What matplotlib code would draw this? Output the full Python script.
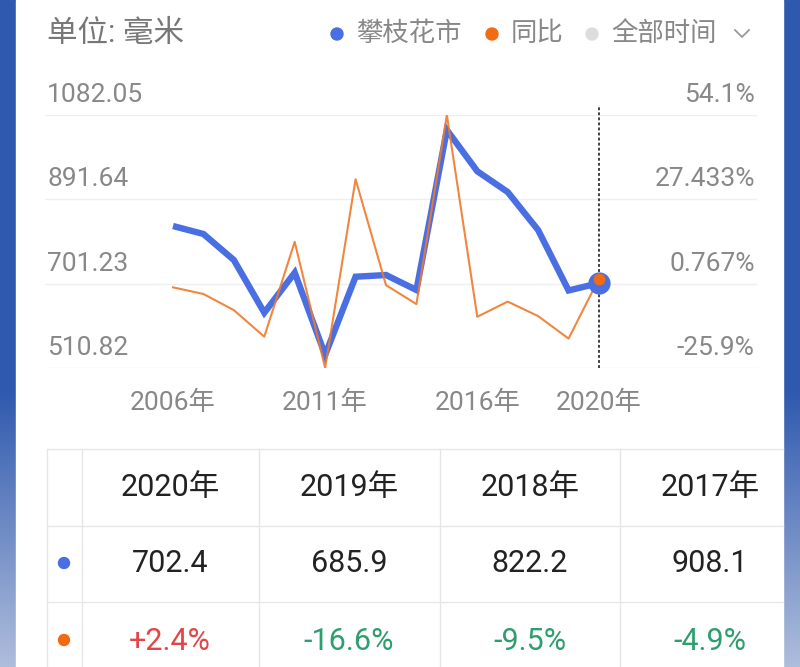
import numpy as np
import matplotlib
matplotlib.use('Agg')
import matplotlib.pyplot as plt
from matplotlib.patches import Rectangle, Circle
import matplotlib.transforms as mtransforms

plt.rcParams['font.family'] = ['Roboto', 'Noto Sans CJK SC', 'DejaVu Sans']

# ---------------- data ----------------
years = list(range(2006, 2021))
rainfall = [831.4, 813.4, 754.6, 635.7, 726.0, 540.2, 716.9, 720.8, 686.9,
            1048.2, 955.0, 908.1, 822.2, 685.9, 702.4]
yoy = [-0.4, -2.5, -7.6, -16.0, 14.0, -25.9, 33.8, 0.3, -5.7,
       54.1, -9.7, -4.9, -9.5, -16.6, 2.4]
left_ticks = [510.82, 701.23, 891.64, 1082.05]
left_tick_labels = ['510.82', '701.23', '891.64', '1082.05']
right_ticks = [-25.9, 0.767, 27.433, 54.1]
right_tick_labels = ['-25.9%', '0.767%', '27.433%', '54.1%']
xtick_years = [2006, 2011, 2016, 2020]
xtick_labels = ['2006年', '2011年', '2016年', '2020年']
unit_label = '单位: 毫米'
series_name = '攀枝花市'
yoy_name = '同比'
range_name = '全部时间'
table_years = [2020, 2019, 2018, 2017]

# ---------------- style ----------------
BLUE = '#4a6fe3'
ORANGE = '#ee7a2c'
ORANGE_DOT = '#f26a12'
GRAY_TXT = '#888888'
RED = '#e0464a'
GREEN = '#2f9e6e'

W, H = 800, 667
fig = plt.figure(figsize=(8, 6.67), dpi=100)


def fx(px):
    return px / W


def fy(py):
    return 1 - py / H


# background: blue side strips with gradient + white card
bg = fig.add_axes([0, 0, 1, 1], zorder=0)
grad = np.zeros((H, 1, 3))
top = np.array([0x2f, 0x59, 0xae]) / 255
bot = np.array([0xb0, 0xbe, 0xdc]) / 255
yy = np.arange(H)
t = np.clip((yy - 390) / (H - 390), 0, 1)
grad[:, 0, :] = top * (1 - t)[:, None] + bot * t[:, None]
bg.imshow(grad, extent=(0, 16, H, 0), aspect='auto')
bg.imshow(grad, extent=(783, W, H, 0), aspect='auto')
bg.add_patch(Rectangle((16, 0), 767, H, color='white', zorder=1))
bg.set_xlim(0, W)
bg.set_ylim(H, 0)
bg.axis('off')

# title & legend
bg.text(47, 34, unit_label, fontsize=22, color='#777777', va='center', ha='left', zorder=3)
bg.add_patch(Circle((337, 34), 6, color=BLUE, zorder=3))
bg.text(356, 34, series_name, fontsize=19, color=GRAY_TXT, va='center', ha='left', zorder=3)
bg.add_patch(Circle((492, 34), 6, color=ORANGE_DOT, zorder=3))
bg.text(511, 34, yoy_name, fontsize=19, color=GRAY_TXT, va='center', ha='left', zorder=3)
bg.add_patch(Circle((592, 34), 6, color='#dddddd', zorder=3))
bg.text(611, 34, range_name, fontsize=19, color=GRAY_TXT, va='center', ha='left', zorder=3)
bg.plot([735, 742, 749], [30, 37, 30], color='#999999', lw=1.3, zorder=3)

# table
line_c = '#e6e6e6'
for yv in [449, 526, 602]:
    bg.plot([47, 783], [yv, yv], color=line_c, lw=1, zorder=2)
for xv in [47, 82, 259, 440, 620]:
    bg.plot([xv, xv], [449, H], color=line_c, lw=1, zorder=2)
col_centers = [170, 349, 530, 710]
for i, yr in enumerate(table_years):
    idx = years.index(yr)
    cx = col_centers[i]
    bg.text(cx, 488, f'{yr}年', fontsize=22, color='#222222', ha='center', va='center', zorder=3)
    bg.text(cx, 564, f'{rainfall[idx]:.1f}', fontsize=22, color='#222222', ha='center', va='center', zorder=3)
    p = yoy[idx]
    bg.text(cx, 641, f'{p:+.1f}%', fontsize=22, color=RED if p > 0 else GREEN,
            ha='center', va='center', zorder=3)
bg.add_patch(Circle((64, 563), 5.5, color=BLUE, zorder=3))
bg.add_patch(Circle((64, 640), 5.5, color=ORANGE_DOT, zorder=3))

# ---------------- chart ----------------
ax_l, ax_r, ax_t, ax_b = 45, 757, 115, 368
ax = fig.add_axes([fx(ax_l), fy(ax_b), (ax_r - ax_l) / W, (ax_b - ax_t) / H], zorder=2)
ax.patch.set_alpha(0)
px_per_year = (599 - 173) / 14
ax.set_xlim(2006 - (173 - ax_l) / px_per_year, 2020 + (ax_r - 599) / px_per_year)
ax.set_ylim(left_ticks[0], left_ticks[-1])
ax.axis('off')
ax2 = ax.twinx()
ax2.set_ylim(right_ticks[0], right_ticks[-1])
ax2.axis('off')

for v in left_ticks:
    ax.axhline(v, color='#efefef', lw=1, zorder=0)

bt = mtransforms.blended_transform_factory(ax.transAxes, ax.transData)
bt_off = mtransforms.offset_copy(bt, fig=fig, x=0, y=20, units='dots')
for v, lab in zip(left_ticks, left_tick_labels):
    ax.text(0.003, v, lab, transform=bt_off, fontsize=19, color=GRAY_TXT, ha='left', va='center')
bt2 = mtransforms.blended_transform_factory(ax2.transAxes, ax2.transData)
bt2_off = mtransforms.offset_copy(bt2, fig=fig, x=0, y=20, units='dots')
for v, lab in zip(right_ticks, right_tick_labels):
    ax2.text(0.997, v, lab, transform=bt2_off, fontsize=19, color=GRAY_TXT, ha='right', va='center')

xt = mtransforms.blended_transform_factory(ax.transData, ax.transAxes)
xt_off = mtransforms.offset_copy(xt, fig=fig, x=0, y=-35, units='dots')
for yr, lab in zip(xtick_years, xtick_labels):
    ax.text(yr, 0, lab, transform=xt_off, fontsize=19, color=GRAY_TXT, ha='center', va='center')

ax.plot(years, rainfall, color=BLUE, lw=4.6, solid_joinstyle='miter', solid_capstyle='butt', zorder=2)
ax2.plot(years, yoy, color=ORANGE, lw=1.5, alpha=0.9, zorder=2)

# cursor line
ax.plot([years[-1], years[-1]], [0, 1 + 10 / (ax_b - ax_t)], transform=xt, color='#333333',
        lw=1.3, linestyle=(0, (1.6, 1.2)), clip_on=False, zorder=1)

ax2.plot([years[-1]], [rainfall[-1]], 'o', transform=ax.transData, ms=16, color=BLUE,
         mec='none', zorder=4, clip_on=False)
ax2.plot([years[-1]], [yoy[-1]], 'o', ms=8.5, color=ORANGE_DOT, mec='none', zorder=5, clip_on=False)

fig.savefig('out.png', dpi=100)
